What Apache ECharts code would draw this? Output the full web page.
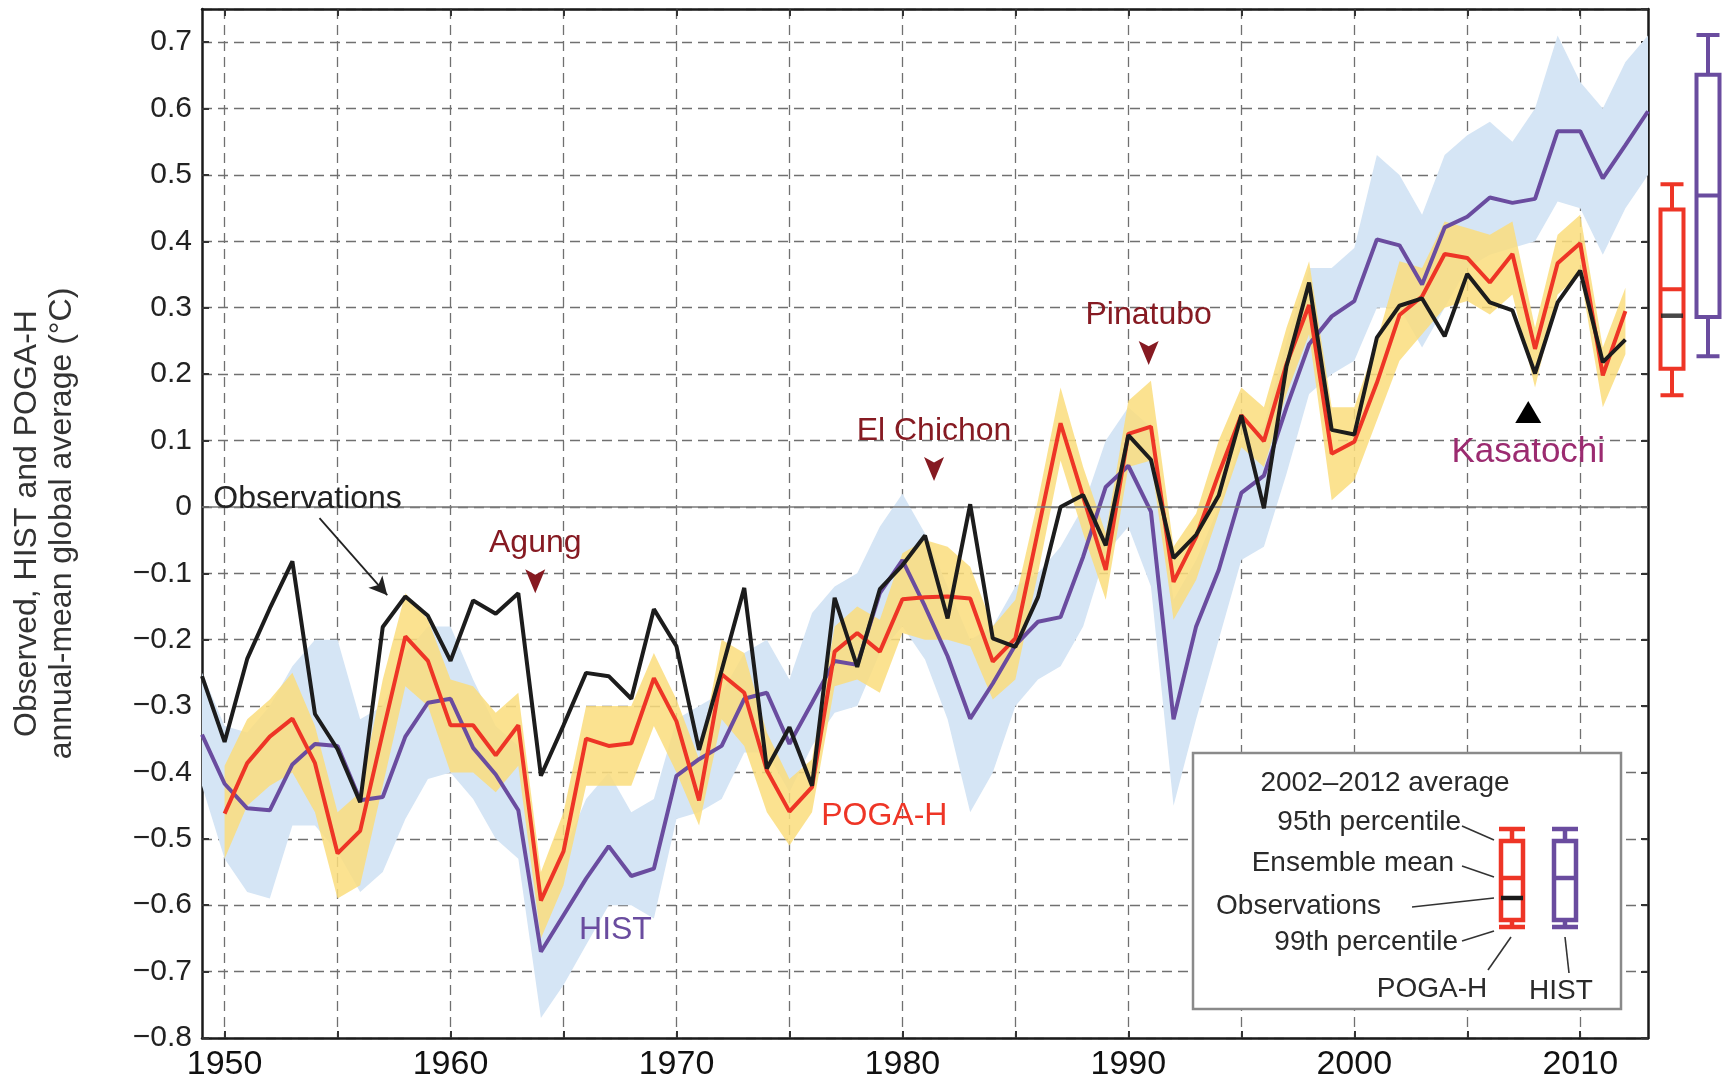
<!DOCTYPE html>
<html>
<head>
<meta charset="utf-8">
<title>Observed, HIST and POGA-H annual-mean global average</title>
<script src="https://cdn.jsdelivr.net/npm/echarts@6/dist/echarts.min.js"></script>
<style>
  html, body { margin: 0; padding: 0; background: #fff; }
  #chart { width: 1729px; height: 1091px; }
</style>
</head>
<body>
<div id="chart"></div>
<script>
// years on the x axis (1949 .. 2013)
var years = [1949, 1950, 1951, 1952, 1953, 1954, 1955, 1956, 1957, 1958, 1959,
  1960, 1961, 1962, 1963, 1964, 1965, 1966, 1967, 1968, 1969,
  1970, 1971, 1972, 1973, 1974, 1975, 1976, 1977, 1978, 1979,
  1980, 1981, 1982, 1983, 1984, 1985, 1986, 1987, 1988, 1989,
  1990, 1991, 1992, 1993, 1994, 1995, 1996, 1997, 1998, 1999,
  2000, 2001, 2002, 2003, 2004, 2005, 2006, 2007, 2008, 2009,
  2010, 2011, 2012, 2013]

// observations (black)
var obs = [-0.255, -0.354, -0.229, -0.153, -0.082, -0.312, -0.365, -0.445, -0.181, -0.135, -0.164,
  -0.232, -0.141, -0.161, -0.130, -0.405, -0.329, -0.250, -0.255, -0.289, -0.154,
  -0.210, -0.366, -0.246, -0.122, -0.394, -0.332, -0.420, -0.137, -0.241, -0.124,
  -0.088, -0.043, -0.168, 0.004, -0.198, -0.211, -0.136, 0.000, 0.018, -0.058,
  0.108, 0.071, -0.077, -0.042, 0.017, 0.138, -0.002, 0.212, 0.338, 0.116,
  0.109, 0.255, 0.303, 0.314, 0.257, 0.351, 0.308, 0.296, 0.201, 0.308,
  0.356, 0.218, 0.252, null]

// POGA-H ensemble mean (red)
var poga = [null, -0.462, -0.386, -0.346, -0.319, -0.386, -0.522, -0.488, -0.340, -0.195, -0.232,
  -0.329, -0.329, -0.374, -0.329, -0.593, -0.519, -0.349, -0.360, -0.356, -0.258,
  -0.323, -0.442, -0.252, -0.280, -0.397, -0.459, -0.422, -0.218, -0.190, -0.218,
  -0.139, -0.136, -0.135, -0.138, -0.233, -0.198, -0.036, 0.126, 0.015, -0.095,
  0.110, 0.121, -0.113, -0.045, 0.050, 0.138, 0.099, 0.215, 0.304, 0.080,
  0.098, 0.187, 0.289, 0.317, 0.381, 0.375, 0.338, 0.381, 0.238, 0.367,
  0.397, 0.198, 0.295, null]

// HIST ensemble mean (purple)
var hist = [-0.343, -0.417, -0.454, -0.457, -0.388, -0.357, -0.360, -0.442, -0.437, -0.346, -0.295,
  -0.289, -0.363, -0.403, -0.457, -0.670, -0.615, -0.560, -0.511, -0.556, -0.545,
  -0.405, -0.380, -0.360, -0.289, -0.280, -0.357, -0.295, -0.232, -0.238, -0.130,
  -0.080, -0.150, -0.225, -0.319, -0.266, -0.208, -0.173, -0.166, -0.075, 0.030,
  0.062, -0.007, -0.320, -0.180, -0.095, 0.021, 0.047, 0.150, 0.245, 0.287,
  0.310, 0.403, 0.394, 0.335, 0.421, 0.437, 0.466, 0.458, 0.464, 0.566,
  0.566, 0.495, 0.545, 0.596]

// POGA-H spread (yellow band)
var pogaHi = [null, -0.39, -0.32, -0.29, -0.25, -0.33, -0.46, -0.43, -0.26, -0.13, -0.17,
  -0.26, -0.27, -0.31, -0.28, -0.55, -0.46, -0.30, -0.30, -0.30, -0.22,
  -0.29, -0.38, -0.20, -0.22, -0.34, -0.41, -0.38, -0.18, -0.15, -0.17,
  -0.07, -0.05, -0.06, -0.09, -0.18, -0.14, 0.01, 0.18, 0.06, -0.04,
  0.16, 0.19, -0.06, -0.01, 0.10, 0.18, 0.15, 0.27, 0.37, 0.15,
  0.15, 0.25, 0.37, 0.36, 0.43, 0.42, 0.41, 0.43, 0.27, 0.41,
  0.44, 0.24, 0.33, null]
var pogaLo = [null, -0.53, -0.45, -0.42, -0.40, -0.46, -0.59, -0.57, -0.42, -0.27, -0.30,
  -0.40, -0.40, -0.43, -0.39, -0.65, -0.57, -0.42, -0.42, -0.42, -0.33,
  -0.40, -0.48, -0.32, -0.36, -0.46, -0.51, -0.46, -0.27, -0.26, -0.28,
  -0.19, -0.20, -0.20, -0.21, -0.29, -0.26, -0.10, 0.07, -0.04, -0.14,
  0.06, 0.07, -0.17, -0.11, -0.01, 0.09, 0.06, 0.17, 0.26, 0.01,
  0.04, 0.13, 0.22, 0.26, 0.30, 0.31, 0.29, 0.32, 0.18, 0.32,
  0.35, 0.15, 0.23, null]

// HIST spread (light blue band)
var histHi = [-0.25, -0.33, -0.34, -0.30, -0.24, -0.20, -0.20, -0.32, -0.30, -0.22, -0.18,
  -0.18, -0.26, -0.33, -0.36, -0.58, -0.52, -0.44, -0.40, -0.46, -0.44,
  -0.32, -0.30, -0.28, -0.22, -0.20, -0.26, -0.16, -0.12, -0.10, -0.03,
  0.02, -0.04, -0.12, -0.20, -0.18, -0.12, -0.10, -0.06, 0.00, 0.10,
  0.15, 0.12, -0.14, -0.08, 0.00, 0.10, 0.12, 0.25, 0.36, 0.36,
  0.39, 0.53, 0.50, 0.44, 0.53, 0.56, 0.58, 0.55, 0.60, 0.71,
  0.64, 0.60, 0.67, 0.71]
var histLo = [-0.42, -0.53, -0.58, -0.59, -0.48, -0.48, -0.52, -0.58, -0.55, -0.47, -0.41,
  -0.40, -0.44, -0.50, -0.53, -0.77, -0.72, -0.66, -0.60, -0.60, -0.62,
  -0.47, -0.46, -0.44, -0.37, -0.37, -0.43, -0.36, -0.31, -0.30, -0.22,
  -0.18, -0.23, -0.32, -0.46, -0.40, -0.30, -0.26, -0.24, -0.18, -0.07,
  -0.03, -0.12, -0.45, -0.32, -0.20, -0.08, -0.06, 0.05, 0.17, 0.20,
  0.22, 0.30, 0.30, 0.24, 0.30, 0.36, 0.38, 0.39, 0.40, 0.46,
  0.45, 0.38, 0.45, 0.50]

// 2002-2012 averages: [99th low, 95th low, ensemble mean, 95th high, 99th high]
var boxNames = ['POGA-H', 'HIST']
var pogaBox = [0.168, 0.208, 0.328, 0.448, 0.486]
var histBox = [0.227, 0.286, 0.469, 0.651, 0.711]
var obsAvg = 0.288

var gridTicks = [1950, 1955, 1960, 1965, 1970, 1975, 1980, 1985, 1990, 1995, 2000, 2005, 2010]
var yearLabels = [1950, 1960, 1970, 1980, 1990, 2000, 2010]

var FONT = 'Liberation Sans, Arial, Helvetica, sans-serif'
var RED = '#ee3526'
var PURPLE = '#6a4c9f'
var BLACK = '#1c1c1c'
var VOLC = '#861a22'

function pairs(arr) {
  return years.map(function (y, i) { return [y, arr[i]] })
}

function band(hi, lo, fill) {
  return function (params, api) {
    var pts = []
    for (var i = 0; i < years.length; i++) {
      if (hi[i] != null) pts.push(api.coord([years[i], hi[i]]))
    }
    for (var j = years.length - 1; j >= 0; j--) {
      if (lo[j] != null) pts.push(api.coord([years[j], lo[j]]))
    }
    return { type: 'polygon', shape: { points: pts }, style: { fill: fill } }
  }
}

function yFmt(v) {
  if (Math.abs(v) < 1e-9) return '0'
  return v.toFixed(1).replace('-', '\u2212')
}

var dashed = { show: true, lineStyle: { color: '#707070', width: 1.3, type: [10, 6] } }
var frame = { show: true, onZero: false, lineStyle: { color: '#1a1a1a', width: 2.5 } }
var inTick = { show: true, inside: true, length: 7, lineStyle: { color: '#333', width: 2 } }

function mark(name, x, y, sym, size, rot, color, pos, dist, fs, fcolor) {
  return {
    coord: [x, y], symbol: sym, symbolSize: size, symbolRotate: rot,
    itemStyle: { color: color },
    label: { show: true, formatter: name, position: pos, distance: dist,
      color: fcolor, fontSize: fs, fontFamily: FONT }
  }
}

function legendText(str, x, y, align) {
  return { type: 'text', x: x, y: y, z: 101,
    style: { text: str, font: '28px ' + FONT, fill: '#2a2a2a', textAlign: align, textVerticalAlign: 'middle' } }
}
function seg(x1, y1, x2, y2, color, w) {
  return { type: 'line', z: 101, shape: { x1: x1, y1: y1, x2: x2, y2: y2 },
    style: { stroke: color, lineWidth: w } }
}
function miniBox(cx, color, mean, obsY) {
  var els = [
    seg(cx, 829, cx, 841, color, 4.5),
    seg(cx, 920, cx, 927, color, 4.5),
    seg(cx - 13, 829, cx + 13, 829, color, 4.5),
    seg(cx - 13, 927, cx + 13, 927, color, 4.5),
    { type: 'rect', z: 101, shape: { x: cx - 11, y: 841, width: 22, height: 79 },
      style: { fill: '#fff', stroke: color, lineWidth: 4.5 } },
    seg(cx - 11, mean, cx + 11, mean, color, 4.5)
  ]
  if (obsY) els.push(seg(cx - 11, obsY, cx + 11, obsY, '#1a1a1a', 4.5))
  return els
}

var chart = echarts.init(document.getElementById('chart'))

var option = {
  animation: false,
  backgroundColor: '#fff',
  textStyle: { fontFamily: FONT },
  grid: [
    { left: 202, top: 9, width: 1446, height: 1029 },
    { left: 1654, top: 9, width: 72, height: 1029 }
  ],
  xAxis: [
    {
      type: 'value', gridIndex: 0, min: 1949, max: 2013, position: 'bottom',
      axisLine: frame,
      axisTick: Object.assign({ customValues: gridTicks }, inTick),
      axisLabel: { customValues: yearLabels, formatter: function (v) { return String(v) },
        fontSize: 34, color: '#111', margin: 10, fontFamily: FONT },
      splitLine: dashed
    },
    {
      type: 'value', gridIndex: 0, min: 1949, max: 2013, position: 'top',
      axisLine: frame,
      axisTick: Object.assign({ customValues: gridTicks }, inTick),
      axisLabel: { show: false }, splitLine: { show: false }
    },
    {
      type: 'category', gridIndex: 1, data: boxNames, show: false
    }
  ],
  yAxis: [
    {
      type: 'value', gridIndex: 0, min: -0.8, max: 0.75, interval: 0.1, position: 'left',
      axisLine: frame, axisTick: inTick,
      axisLabel: { formatter: yFmt, fontSize: 30, color: '#222', margin: 10, showMaxLabel: false, fontFamily: FONT },
      splitLine: dashed,
      name: 'Observed, HIST and POGA-H\nannual-mean global average (\u00b0C)',
      nameLocation: 'middle', nameRotate: 90, nameGap: 122,
      nameTextStyle: { fontSize: 32, color: '#333', lineHeight: 35, fontFamily: FONT }
    },
    {
      type: 'value', gridIndex: 0, min: -0.8, max: 0.75, interval: 0.1, position: 'right',
      axisLine: frame, axisTick: inTick,
      axisLabel: { show: false }, splitLine: { show: false }
    },
    {
      type: 'value', gridIndex: 1, min: -0.8, max: 0.75, show: false
    }
  ],
  graphic: [
    { type: 'rect', z: 100, shape: { x: 1193, y: 753, width: 428, height: 256 },
      style: { fill: '#fff', stroke: '#8a8a8a', lineWidth: 2.5 } },
    legendText('2002\u20132012 average', 1385, 783, 'center'),
    legendText('95th percentile', 1461, 822, 'right'),
    legendText('Ensemble mean', 1454, 863, 'right'),
    legendText('Observations', 1381, 906, 'right'),
    legendText('99th percentile', 1458, 942, 'right'),
    legendText('POGA-H', 1432, 989, 'center'),
    legendText('HIST', 1561, 991, 'center'),
    seg(1462, 826, 1494, 840, '#333', 1.6),
    seg(1462, 866, 1494, 877, '#333', 1.6),
    seg(1412, 907, 1494, 898, '#333', 1.6),
    seg(1462, 941, 1494, 931, '#333', 1.6),
    seg(1488, 970, 1511, 937, '#333', 1.6),
    seg(1569, 973, 1565, 937, '#333', 1.6)
  ].concat(miniBox(1512, RED, 878, 898), miniBox(1565, PURPLE, 878, null)),
  series: [
    {
      name: 'HIST range', type: 'custom', xAxisIndex: 0, yAxisIndex: 0, z: 1, silent: true,
      data: [[1949, 0]], renderItem: band(histHi, histLo, '#d5e5f5')
    },
    {
      name: 'POGA-H range', type: 'custom', xAxisIndex: 0, yAxisIndex: 0, z: 2, silent: true,
      data: [[1949, 0]], renderItem: band(pogaHi, pogaLo, 'rgba(250,221,125,0.85)')
    },
    {
      name: 'HIST', type: 'line', xAxisIndex: 0, yAxisIndex: 0, z: 3,
      data: pairs(hist), symbol: 'none',
      lineStyle: { color: PURPLE, width: 4 },
      markLine: {
        silent: true, symbol: 'none', label: { show: false },
        lineStyle: { color: '#7a7a7a', width: 1.5, type: 'solid' },
        data: [{ yAxis: 0 }]
      },
      markPoint: {
        silent: true,
        data: [mark('HIST', 1967.3, -0.638, 'circle', 0, 0, PURPLE, 'inside', 0, 32, PURPLE)]
      }
    },
    {
      name: 'POGA-H', type: 'line', xAxisIndex: 0, yAxisIndex: 0, z: 4,
      data: pairs(poga), symbol: 'none',
      lineStyle: { color: RED, width: 4 },
      markPoint: {
        silent: true,
        data: [mark('POGA-H', 1979.2, -0.466, 'circle', 0, 0, RED, 'inside', 0, 32, RED)]
      }
    },
    {
      name: 'Observations', type: 'line', xAxisIndex: 0, yAxisIndex: 0, z: 5,
      data: pairs(obs), symbol: 'none',
      lineStyle: { color: BLACK, width: 4 },
      markLine: {
        silent: true, symbol: ['none', 'arrow'], symbolSize: [14, 18],
        label: { show: false },
        lineStyle: { color: '#222', width: 1.8, type: 'solid' },
        data: [[{ coord: [1954.2, -0.017] }, { coord: [1957.2, -0.133] }]]
      },
      markPoint: {
        silent: true,
        data: [
          mark('Observations', 1949.5, 0.012, 'circle', 0, 0, '#222', 'right', 0, 32, '#222'),
          mark('Agung', 1963.75, -0.112, 'path://M0,0 L10,5 L20,0 L10,22 Z', [20, 24], 0, VOLC, 'top', 10, 32, VOLC),
          mark('El Chichon', 1981.4, 0.057, 'path://M0,0 L10,5 L20,0 L10,22 Z', [20, 24], 0, VOLC, 'top', 10, 32, VOLC),
          mark('Pinatubo', 1990.9, 0.232, 'path://M0,0 L10,5 L20,0 L10,22 Z', [20, 24], 0, VOLC, 'top', 10, 32, VOLC),
          mark('Kasatochi', 2007.7, 0.143, 'triangle', [26, 22], 0, '#000', 'bottom', 12, 35, '#9b2b70')
        ]
      }
    },
    {
      name: '2002-2012 average', type: 'boxplot', xAxisIndex: 2, yAxisIndex: 2, z: 3,
      boxWidth: [23, 23],
      data: [
        { value: pogaBox, itemStyle: { color: '#fff', borderColor: RED, borderWidth: 4 } },
        { value: histBox, itemStyle: { color: '#fff', borderColor: PURPLE, borderWidth: 4 } }
      ]
    },
    {
      name: 'Observed average', type: 'scatter', xAxisIndex: 2, yAxisIndex: 2, z: 6,
      symbol: 'rect', symbolSize: [22, 4.5],
      itemStyle: { color: '#1a1a1a' },
      data: [['POGA-H', obsAvg]]
    }
  ]
}

chart.setOption(option)
</script>
</body>
</html>
